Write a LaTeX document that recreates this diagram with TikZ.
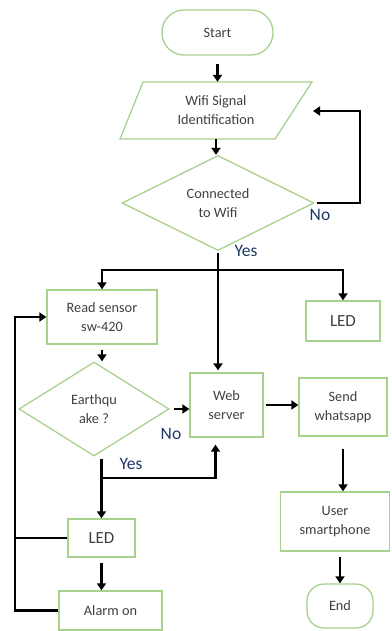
\documentclass[tikz,border=0pt]{standalone}
\usepackage{fontspec}
\setmainfont{Carlito}
\usetikzlibrary{shapes.geometric,arrows.meta,calc}
\definecolor{bordergreen}{HTML}{A9D18E}
\definecolor{txtgray}{HTML}{404040}
\definecolor{lblblue}{HTML}{1F3864}
\begin{document}
\begin{tikzpicture}[x=1pt,y=-1pt,
  box/.style={draw=bordergreen, line width=1.3pt, text=txtgray, align=center, font=\fontsize{14.3}{19}\selectfont, inner sep=0pt},
  bigbox/.style={box, font=\fontsize{17}{20}\selectfont},
  term/.style={box, rounded corners=20pt},
  dec/.style={box, diamond, aspect=2},
  arr/.style={draw=black, line width=2.2pt, -{Triangle[length=7pt,width=9pt]}},
  ln/.style={draw=black, line width=2.2pt},
  lbl/.style={text=lblblue, font=\fontsize{17.5}{20}\selectfont, inner sep=0pt}]
\useasboundingbox (0,0) rectangle (391,631);

% nodes
\node[term, minimum width=111pt, minimum height=45pt, rounded corners=22pt] (start) at (217.5,32.5) {Start};
\node[align=center, text=txtgray, font=\fontsize{14.3}{19}\selectfont, inner sep=0pt, minimum width=150pt, minimum height=57pt] (wifi) at (216,110.5) {Wifi Signal\\Identification};
\draw[draw=bordergreen, line width=1.3pt] (143,82) -- (312,82) -- (275,139) -- (120,139) -- cycle;
\node[dec, minimum width=192pt, minimum height=95pt] (conn) at (218,203) {Connected\\to Wifi};
\node[box, minimum width=110pt, minimum height=54pt] (read) at (102,317) {Read sensor\\sw-420};
\node[bigbox, minimum width=74pt, minimum height=40pt] (led1) at (343,321) {LED};
\node[dec, minimum width=150pt, minimum height=94pt] (eq) at (94,409) {Earthqu\\ake ?};
\node[box, minimum width=73pt, minimum height=64pt] (web) at (226.5,405) {Web\\server};
\node[box, minimum width=88pt, minimum height=58pt] (send) at (343,407) {Send\\whatsapp};
\node[box, minimum width=109pt, minimum height=59pt] (user) at (335,521.5) {User\\smartphone};
\node[term, minimum width=66pt, minimum height=44pt, rounded corners=17pt] (end) at (340,606) {End};
\node[bigbox, minimum width=67pt, minimum height=38pt] (led2) at (101.5,538) {LED};
\node[box, minimum width=103pt, minimum height=39pt] (alarm) at (110.5,610.5) {Alarm on};

% labels
\node[lbl] (no1) at (320,215) {No};
\node[lbl] (yes1) at (246,251) {Yes};
\node[lbl] (no2) at (171,434) {No};
\node[lbl] (yes2) at (131,464) {Yes};

% helper coordinates
\coordinate (wifiR) at (313,111);
\coordinate (split) at (conn.south |- 0,270);
\coordinate (ysplit) at (led2.north |- 0,478);
\coordinate (loopx) at (15,0);

% connectors
\draw[arr, shorten <=8pt] (start.south) -- (start.south |- wifi.north);
\draw[arr] (wifi.south) -- (wifi.south |- conn.north);
\draw[arr, shorten <=2pt] (conn.east) -- (360,203) |- (wifiR);
\draw[arr, shorten <=2pt, shorten >=2pt] (conn.south) -- (conn.south |- web.north);
\draw[arr] (split) -| (read);
\draw[arr] (split) -| (led1);
\draw[arr, shorten <=5pt] (read.south) -- (read.south |- eq.north);
\draw[arr, shorten <=4pt] (eq.east) -- (eq.east -| web.west);
\draw[arr, shorten <=2pt] (web.east) -- (web.east -| send.west);
\draw[arr, shorten <=12pt] (send.south) -- (send.south |- user.north);
\draw[arr, shorten <=5pt] (end.north |- user.south) -- (end.north);
\draw[arr, shorten <=2pt] (led2.north |- eq.south) -- (led2.north);
\draw[arr, shorten >=7pt] (ysplit) -| ([xshift=-11pt]web.south);
\draw[arr, shorten <=5pt] (led2.south) -- (led2.south |- alarm.north);
\draw[ln] (led2.west) -- (led2.west -| loopx);
\draw[arr] (alarm.west) -- (alarm.west -| loopx) |- (read.west);
\end{tikzpicture}
\end{document}
